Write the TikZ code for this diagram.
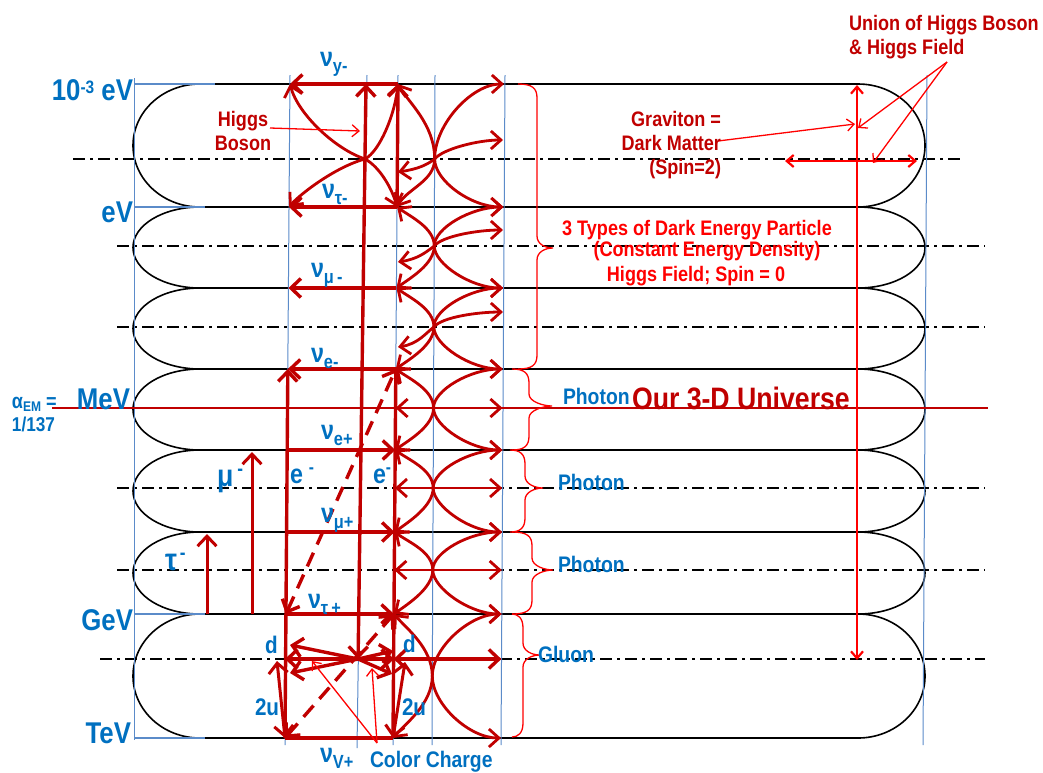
\documentclass[tikz,border=0pt]{standalone}
\usepackage{fontspec}
\setmainfont{Liberation Sans}[FakeStretch=0.86]
\usetikzlibrary{arrows.meta}
\definecolor{tblue}{HTML}{0070C0}
\definecolor{dred}{HTML}{C00000}
\definecolor{bred}{HTML}{FF0000}
\definecolor{gblue}{HTML}{5B8BC9}
\newcommand{\fsz}[2]{\fontsize{#1}{#2}\selectfont}
\newcommand{\nul}[1]{{\fsz{27}{27}ν}\raisebox{-6pt}{\fsz{19}{19}#1}}
\newcommand{\mybrace}[6]{\draw[ptr] ({#1},{#4}) .. controls ({#2-5},{#4}) and ({#2},{#4+4}) .. ({#2},{#4+14}) -- ({#2},{#5-12}) .. controls ({#2},{#5-4}) and ({#3-8},{#5}) .. ({#3},{#5}) .. controls ({#3-8},{#5}) and ({#2},{#5+4}) .. ({#2},{#5+12}) -- ({#2},{#6-14}) .. controls ({#2},{#6-4}) and ({#2-5},{#6}) .. ({#1},{#6});}
\begin{document}
\begin{tikzpicture}[x=1pt,y=-1pt,
  every node/.style={inner sep=0pt,outer sep=0pt},
  stad/.style={draw=black,line width=1.6pt},
  gline/.style={draw=gblue,line width=1pt},
  dd/.style={draw=black,line width=1.4pt,dash pattern=on 12pt off 5pt on 3pt off 5pt},
  tk/.style={draw=dred,line width=3.4pt,>={Straight Barb[length=10pt,width=19pt]}},
  cv/.style={draw=dred,line width=2.8pt,>={Straight Barb[length=10pt,width=18pt]}},
  ptr/.style={draw=bred,line width=1.3pt,>={Straight Barb[length=7pt,width=12pt]}},
  bt/.style={text=tblue,font=\bfseries\fsz{22.5}{24}},
  bigl/.style={text=tblue,font=\bfseries\fsz{30}{30}},
  rt/.style={text=dred,font=\bfseries\fsz{21}{24}},
  brt/.style={text=bred,font=\bfseries\fsz{21}{24}},
]
\useasboundingbox (0,0) rectangle (1043,772);

% grid coordinates
\foreach \rw/\yy in {a/84,b/159,c/207,d/246,e/288,f/327,g/369,h/408,i/450,j/488,k/532,l/570,m/614,n/659,o/676,p/738}{
  \coordinate (L\rw) at ({290-(\yy-84)*5/654},\yy);
  \coordinate (M\rw) at ({366-(\yy-84)*9/654},\yy);
  \coordinate (R\rw) at ({398-(\yy-84)*5/654},\yy);
  \coordinate (C\rw) at ({435-(\yy-84)*3/654},\yy);
  \coordinate (E\rw) at ({504-(\yy-84)*3/654},\yy);
}

% stadiums
\foreach \t/\b in {84/207,207/288,288/369,369/450,450/532,532/614,614/738}{
  \draw[stad] (200,\t) -- (858,\t) arc[start angle=-90,end angle=90,x radius=67,y radius={(\b-\t)/2}] -- (200,\b) arc[start angle=90,end angle=270,x radius=67,y radius={(\b-\t)/2}];
}

% dash-dot lines
\draw[dd] (73,159) -- (960,159);
\draw[dd] (117,246) -- (985,246);
\draw[dd] (117,327) -- (985,327);
\draw[dd] (117,488) -- (985,488);
\draw[dd] (117,570) -- (985,570);
\draw[dd] (100,659) -- (985,659);

% blue guide lines
\draw[gline] (134,78) -- (134,740);
\draw[gline] (290,75) -- (285,745);
\draw[gline] (367,75) -- (357,748);
\draw[gline] (398,75) -- (393,745);
\draw[gline] (435,75) -- (432,745);
\draw[gline] (505,75) -- (501,745);
\draw[gline] (927,75) -- (923,745);
\draw[gline,line width=1.3pt] (134,84) -- (215,84);
\draw[gline,line width=1.3pt] (134,207) -- (205,207);
\draw[gline,line width=1.3pt] (134,614) -- (205,614);
\draw[gline,line width=1.3pt] (134,738) -- (205,738);

% MeV line
\draw[draw=dred,line width=1.3pt] (52,408) -- (988,408);

% thick red arrows
\draw[tk,<->] (Ma) -- (Mn);
\draw[tk,->] (Rc) -- (Ra);
\draw[tk,->] (Ra) -- (La);
\draw[tk,->] (Rc) -- (Lc);
\draw[tk,->] (Re) -- (Le);
\draw[tk,->] (Rg) -- (Lg);
\draw[tk,->] (Lp) -- (Lg);
\draw[tk] (Rg) -- (Rp);
\draw[tk,->] (Li) -- (Ri);
\draw[tk,->] (Lk) -- (Rk);
\draw[tk,->] (Lm) -- (Rm);
\draw[tk] (Lp) -- (Rp);
\draw[tk,<->,dash pattern=on 15pt off 9pt] (Lm) -- (Rg);
\draw[tk,<->,dash pattern=on 15pt off 9pt] (Lp) -- (Rm);

\coordinate (mu0) at (252,614); \coordinate (mu1) at (252,452);
\coordinate (ta0) at (207,614); \coordinate (ta1) at (207,534);
\draw[tk,->,line width=3pt] (mu0) -- (mu1);
\draw[tk,->,line width=3pt] (ta0) -- (ta1);

% quark arrows
\coordinate (q1) at (290,645); \coordinate (q2) at (285,659); \coordinate (q3) at (290,673);
\coordinate (q4) at (393,651); \coordinate (q5) at (394,659); \coordinate (q6) at (392,674);
\foreach \q in {q1,q2,q3,q4,q5,q6} \draw[tk,->] (Mn) -- (\q);
\draw[tk,<->] (Rn) -- (En);
\coordinate (u1) at (277,661); \coordinate (u2) at (405,662);
\draw[tk,<->,line width=3pt] (u1) -- (Lp);
\draw[tk,<->,line width=3pt] (u2) -- (Rp);

% S-curves right section
\foreach \t/\c/\b/\h/\g/\sx/\sy in {a/b/c/35/22/10/18, c/d/e/18/18/14/10, e/f/g/18/18/14/10, g/h/i/18/18/14/10, i/j/k/18/18/14/10, k/l/m/18/18/14/10, m/o/p/28/28/12/14}{
  \draw[cv,<->] (R\t) .. controls +(\sx,\sy) and +(0,-\h) .. (C\c) .. controls +(0,\g) and +(-32,0) .. (E\b);
  \draw[cv,<->] (R\b) .. controls +(\sx,-\sy) and +(0,\g) .. (C\c) .. controls +(0,-\h) and +(-32,0) .. (E\t);
}
% diagonal double arrows
\coordinate (s1l) at (398,172); \coordinate (s1r) at (503,140);
\coordinate (s2l) at (398,262); \coordinate (s2r) at (503,230);
\coordinate (s3l) at (398,347); \coordinate (s3r) at (503,312);
\draw[cv,<->] (s1l) .. controls +(20,-3) and +(-8,6) .. (Cb) .. controls +(8,-10) and +(-25,0) .. (s1r);
\draw[cv,<->] (s2l) .. controls +(20,-3) and +(-8,6) .. (Cd) .. controls +(8,-10) and +(-25,0) .. (s2r);
\draw[cv,<->] (s3l) .. controls +(20,-3) and +(-8,6) .. (Cf) .. controls +(8,-10) and +(-25,0) .. (s3r);
\draw[cv,<->] (Rh) -- (Eh);
\draw[cv,<->] (Rj) -- (Ej);
\draw[cv,<->] (Rl) -- (El);

% S-curves left section (top stadium)
\draw[cv,<->] (La) .. controls +(8,30) and +(-30,-10) .. (Mb) .. controls +(15,8) and +(-5,-18) .. (Rc);
\draw[cv,<->] (Lc) .. controls +(10,-12) and +(-30,8) .. (Mb) .. controls +(15,-8) and +(-3,30) .. (Ra);

% thin bright red pointers
\coordinate (hp0) at (270,128); \coordinate (hp1) at (360,131);
\draw[ptr,->] (hp0) -- (hp1);
\coordinate (gp0) at (718,141); \coordinate (gp1) at (855,124);
\draw[ptr,->] (gp0) -- (gp1);
\coordinate (gl) at (785,161); \coordinate (gr) at (917,161);
\draw[ptr,<->,line width=2.2pt] (gl) -- (gr);
\coordinate (un) at (947,62); \coordinate (un1) at (858,128); \coordinate (un2) at (873,163);
\draw[ptr,->] (un) -- (un1);
\draw[ptr,->] (un) -- (un2);
\coordinate (rv0) at (857,85); \coordinate (rv1) at (857,660);
\draw[ptr,<->,line width=2.2pt] (rv0) -- (rv1);
\coordinate (cc0) at (377,743); \coordinate (cc1) at (312,661); \coordinate (cc2) at (372,668);
\draw[ptr,->] (cc0) -- (cc1);
\draw[ptr,->] (cc0) -- (cc2);

% braces
\mybrace{518}{537}{553}{84}{248}{369}
\mybrace{512}{529}{552}{369}{406}{450}
\mybrace{510}{525}{543}{450}{488}{532}
\mybrace{512}{532}{553}{532}{570}{614}
\mybrace{512}{523}{540}{614}{655}{737}

% energy labels
\node[bigl,anchor=base east] (t1) at (133,100) {10\raisebox{7pt}{\fsz{18}{18}-3} eV};
\node[bigl,anchor=base east] (t2) at (133,222) {eV};
\node[bigl,anchor=base east] (t3) at (130,409) {MeV};
\node[bigl,anchor=base east] (t4) at (133,630) {GeV};
\node[bigl,anchor=base east] (t5) at (131,743) {TeV};
\node[text=tblue,font=\bfseries\fsz{21}{21},anchor=base west] (al1) at (12,408) {α\raisebox{-3pt}{\fsz{14}{14}EM} =};
\node[text=tblue,font=\bfseries\fsz{20}{20},anchor=base west] (al2) at (12,431) {1/137};

% neutrino labels
\node[text=tblue,font=\bfseries,anchor=base west] (nu1) at (320,66) {\nul{y-}};
\node[text=tblue,font=\bfseries,anchor=base west] (nu2) at (322,198) {\nul{τ-}};
\node[text=tblue,font=\bfseries,anchor=base west] (nu3) at (311,277) {\nul{μ\,-}};
\node[text=tblue,font=\bfseries,anchor=base west] (nu4) at (311,362) {\nul{e-}};
\node[text=tblue,font=\bfseries,anchor=base west] (nu5) at (321,439) {\nul{e+}};
\node[text=tblue,font=\bfseries,anchor=base west] (nu6) at (321,522) {\nul{μ+}};
\node[text=tblue,font=\bfseries,anchor=base west] (nu7) at (308,608) {\nul{τ\,+}};
\node[text=tblue,font=\bfseries,anchor=base west] (nu8) at (320,762) {\nul{V+}};

% particle labels
\node[text=tblue,font=\bfseries\fsz{27}{27},anchor=base west] (el) at (290,483) {e\hspace{6pt}\raisebox{10pt}{\fsz{18}{18}-}};
\node[text=tblue,font=\bfseries\fsz{27}{27},anchor=base west] (er) at (373,483) {e\raisebox{10pt}{\fsz{18}{18}-}};
\node[text=tblue,font=\bfseries\fsz{31}{31},anchor=base west] (mu) at (217,486) {μ\hspace{4pt}\raisebox{11pt}{\fsz{20}{20}-}};
\node[text=tblue,font=\bfseries\fsz{31}{31},anchor=base west] (tau) at (165,570) {τ\hspace{3pt}\raisebox{11pt}{\fsz{20}{20}-}};
\node[text=tblue,font=\bfseries\fsz{24}{24},anchor=base west] (dl) at (265,653) {d};
\node[text=tblue,font=\bfseries\fsz{24}{24},anchor=base west] (dr) at (403,652) {d};
\node[text=tblue,font=\bfseries\fsz{24}{24},anchor=base west] (ul) at (255,715) {2u};
\node[text=tblue,font=\bfseries\fsz{24}{24},anchor=base west] (ur) at (402,715) {2u};
\node[bt,anchor=base west] (colch) at (370,767) {Color Charge};

% force labels
\node[bt,anchor=base west] (ph1) at (563,404) {Photon};
\node[bt,anchor=base west] (ph2) at (558,490) {Photon};
\node[bt,anchor=base west] (ph3) at (558,572) {Photon};
\node[bt,anchor=base west] (glu) at (538,662) {Gluon};
\node[rt,font=\bfseries\fsz{31}{31},anchor=base west] (our) at (632,409) {Our 3-D Universe};

% red texts
\node[rt,align=center] (hig) at (243,131) {Higgs\\Boson};
\node[rt,align=right,anchor=north east] (grav) at (721,111) {Graviton =\\Dark Matter\\(Spin=2)};
\node[rt,align=left,anchor=north west] (uni) at (849,15) {Union of Higgs Boson\\\& Higgs Field};
\node[brt,anchor=base] (de1) at (697,235) {3 Types of Dark Energy Particle};
\node[brt,anchor=base] (de2) at (707,256) {(Constant Energy Density)};
\node[brt,anchor=base] (de3) at (696,281) {Higgs Field; Spin = 0};
\end{tikzpicture}
\end{document}
